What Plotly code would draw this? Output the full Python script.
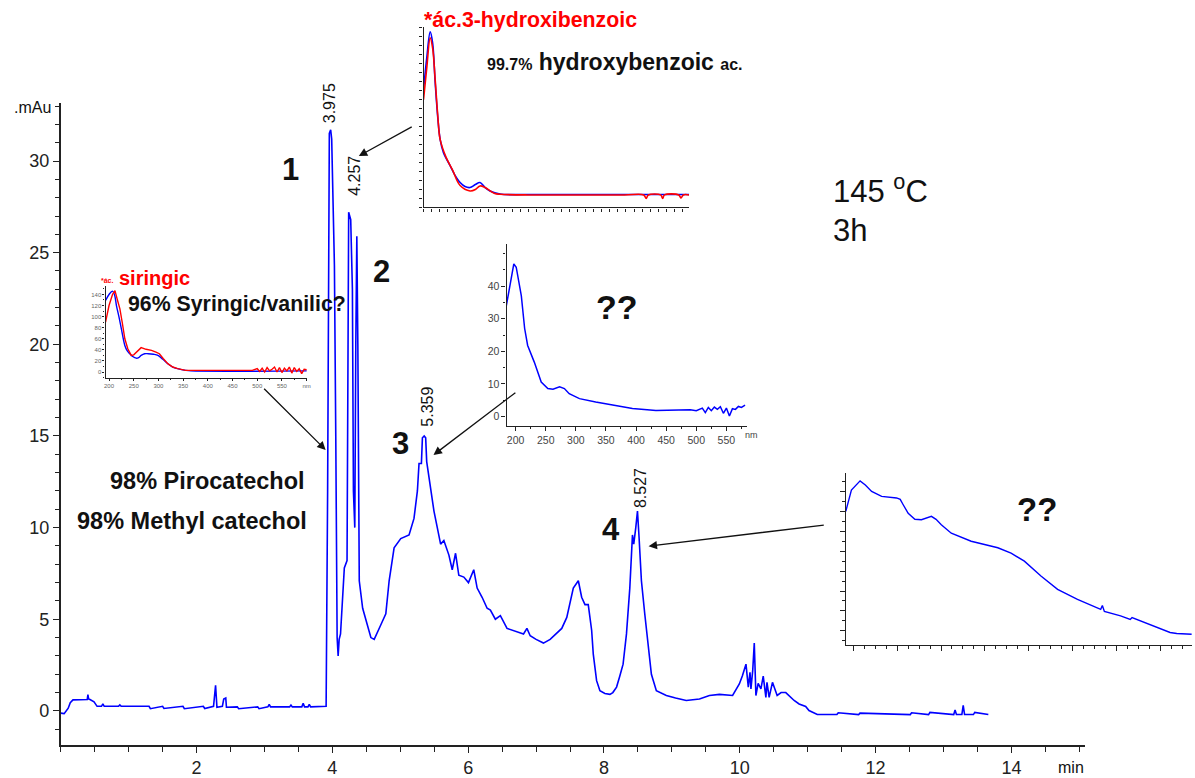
import plotly.graph_objects as go

W, H = 1195, 778
FONT = "Liberation Sans, Arial, Helvetica, sans-serif"
BLUE = "#0000ff"
RED = "#ff0000"
AX = "#222222"

# ---------------- main chromatogram (min, mAU) ----------------
time_min = [0.00, 0.05, 0.11, 0.14, 0.18, 0.315, 0.39, 0.40, 0.41, 0.43, 0.49, 0.535,
            0.60, 0.62, 0.64, 0.85, 0.87, 0.89, 1.3, 1.32, 1.5, 1.52, 1.8, 1.82, 2.1, 2.12,
            2.25, 2.28, 2.30, 2.38, 2.40, 2.43, 2.44, 2.6, 2.62, 2.9, 2.92, 3.05, 3.07,
            3.09, 3.37, 3.39, 3.41, 3.55, 3.57, 3.59, 3.64, 3.66, 3.68, 3.908,
            3.93, 3.955, 3.975, 3.99, 4.005, 4.03, 4.05, 4.07, 4.085, 4.10, 4.12, 4.13,
            4.176, 4.216, 4.225, 4.24, 4.27, 4.295, 4.31, 4.33, 4.345, 4.36, 4.375, 4.396,
            4.446, 4.494, 4.567, 4.616, 4.67, 4.714, 4.787, 4.836, 4.909, 5.007, 5.129,
            5.202, 5.252, 5.276, 5.311, 5.326, 5.352, 5.374, 5.389, 5.447, 5.496, 5.545,
            5.594, 5.642, 5.716, 5.765, 5.814, 5.862, 5.936, 6.004, 6.082, 6.132, 6.205,
            6.279, 6.327, 6.40, 6.474, 6.572, 6.718, 6.815, 6.865, 6.913, 7.00, 7.108,
            7.207, 7.295, 7.378, 7.452, 7.50, 7.548, 7.622, 7.671, 7.72, 7.768, 7.818,
            7.842, 7.891, 7.94, 8.013, 8.087, 8.13, 8.185, 8.233, 8.281, 8.331, 8.38,
            8.419, 8.438, 8.468, 8.493, 8.516, 8.551, 8.60, 8.648, 8.698, 8.771, 8.918,
            9.054, 9.211, 9.406, 9.553, 9.70, 9.894, 9.993, 10.037, 10.091, 10.125,
            10.15, 10.164, 10.19, 10.213, 10.237, 10.27, 10.311, 10.345, 10.384, 10.40,
            10.432, 10.481, 10.55, 10.608, 10.677, 10.80, 10.873, 10.97, 11.019, 11.141,
            11.43, 11.45, 11.75, 11.77, 12.51, 12.53, 12.78, 12.80, 13.15, 13.17, 13.19,
            13.27, 13.29, 13.31, 13.44, 13.46, 13.66]
signal_mau = [-0.12, -0.15, 0.15, 0.45, 0.60, 0.62, 0.62, 0.89, 0.65, 0.62, 0.50, 0.25,
              0.25, 0.38, 0.25, 0.25, 0.33, 0.25, 0.25, 0.12, 0.25, 0.13, 0.25, 0.12, 0.25, 0.13,
              0.25, 1.40, 0.20, 0.25, 0.65, 0.70, 0.20, 0.22, 0.12, 0.22, 0.12, 0.22, 0.35,
              0.22, 0.22, 0.32, 0.22, 0.22, 0.42, 0.22, 0.22, 0.35, 0.22, 0.25,
              12.0, 31.5, 31.7, 31.2, 28.6, 24.3, 15.0, 4.0, 3.0, 3.9, 4.2, 4.9,
              7.8, 8.2, 20.0, 27.2, 26.8, 23.0, 12.0, 10.0, 20.0, 25.9, 20.0, 7.1,
              5.6, 4.9, 4.0, 3.9, 4.3, 4.7, 5.3, 7.1, 8.9, 9.4, 9.6,
              10.5, 12.0, 13.5, 13.5, 14.9, 15.0, 14.9, 13.6, 12.2, 10.9, 10.0,
              9.1, 9.3, 8.5, 7.7, 8.6, 7.4, 7.3, 7.0, 7.7, 6.7, 6.2,
              5.6, 5.5, 5.0, 5.2, 4.5, 4.3, 4.2, 4.5, 4.1, 3.9, 3.7,
              3.9, 4.2, 4.5, 5.1, 6.0, 6.7, 7.1, 6.2, 5.8, 5.8, 4.4,
              3.1, 1.65, 1.1, 0.95, 0.9, 1.0, 1.3, 1.9, 2.55, 4.2, 6.7,
              9.6, 9.1, 10.0, 10.9, 9.5, 7.1, 5.3, 3.5, 2.0, 1.1, 0.84,
              0.7, 0.57, 0.65, 0.84, 0.9, 0.84, 1.47, 1.9, 2.55, 1.3,
              2.1, 1.2, 2.2, 3.7, 0.84, 1.5, 1.2, 1.9, 0.74, 1.56,
              0.74, 1.56, 0.84, 1.0, 1.0, 0.57, 0.38, 0.24, 0.02, -0.20,
              -0.20, -0.10, -0.20, -0.12, -0.20, -0.10, -0.20, -0.08, -0.20, 0.05, -0.20,
              -0.20, 0.30, -0.20, -0.20, -0.08, -0.20]

peak_rt = ["3.975", "4.257", "5.359", "8.527"]
peak_no = ["1", "2", "3", "4"]
x_ticks = [2, 4, 6, 8, 10, 12, 14]
y_ticks = [0, 5, 10, 15, 20, 25, 30]

# ---------------- inset 1: 3-hydroxybenzoic acid spectra (nm, abs) ----------------
hb_nm_s = [190, 195, 200.3, 204, 208, 212, 215.7, 220.8, 231, 238, 246.5, 254, 261.8,
           270, 277.2, 285, 292.6, 308, 350, 450, 600]
hb_ab_s = [118, 150, 176, 165, 125, 90, 68, 55, 42, 33, 25, 21, 20,
           23, 25, 20, 16.6, 13.5, 13, 13, 13]
hb_nm_r = [190, 195, 200.3, 204, 208, 212, 215.7, 225, 234.5, 246.5, 261.8, 270, 277.2,
           285, 300, 308, 350, 500, 530, 533.7, 537, 556, 559.2, 562, 584, 587.5, 591, 600]
hb_ab_r = [108, 140, 170, 160, 128, 92, 68, 50, 38, 22, 16.6, 18, 21.6,
           20, 14, 13.3, 12.6, 12.6, 12.5, 9, 12.5, 12.6, 9, 12.6, 12.6, 9.5, 12.6, 12.6]

# ---------------- inset 2: syringic acid spectra ----------------
sy_nm_s = [193, 200, 207, 211, 215, 220, 225, 232, 237, 242, 248, 255, 260, 265, 272,
           279, 290, 299, 309, 319, 329, 339, 355, 366, 600]
sy_ab_s = [129, 140, 146, 140, 120, 100, 78, 48, 38, 33, 28, 25, 26, 30, 33,
           33, 32, 30, 23, 15, 9, 6, 3, 2, 2]
sy_nm_r = [193, 200, 207, 212, 217, 222, 227, 232, 238, 245, 250, 255, 260, 265, 275,
           286, 295, 302, 310, 319, 329, 339, 355, 366, 450, 490, 500, 505, 510, 515,
           520, 525, 530, 535, 540, 545, 550, 555, 560, 565, 570, 575, 580, 585, 590,
           595, 600]
sy_ab_r = [90, 120, 140, 147, 130, 114, 88, 60, 42, 30, 31, 36, 41, 44, 41,
           39, 36, 33, 24, 15, 9, 6, 3, 3, 3, 3, 6, 1, 7, 0,
           8, 2, 5, 9, 0, 8, -1, 7, 2, 9, -2, 8, 1, 6, -3,
           5, 4]
sy_x_ticks = [200, 250, 300, 350, 400, 450, 500, 550, 600]
sy_x_text = ["200", "250", "300", "350", "400", "450", "500", "550", "nm"]
sy_y_ticks = [0, 20, 40, 60, 80, 100, 120, 140]

# ---------------- inset 3: peak 3 spectrum ----------------
p3_nm = [184.6, 190, 197, 201, 205, 209.5, 215, 220, 231, 242.5, 253.5, 262, 273, 281,
         289, 306, 333, 366, 394, 433, 470, 490, 500, 510, 515, 520, 525, 530, 535,
         540, 545, 550, 555, 560, 565, 570, 575, 581]
p3_ab = [34, 40, 46.8, 45.8, 42, 37, 27, 21.8, 16.7, 10.6, 8.6, 8.4, 9.1, 8.6,
         7.0, 5.5, 4.5, 3.5, 2.5, 1.9, 1.9, 2.1, 1.8, 2.6, 1.2, 2.8, 1.8, 2.9, 2.2,
         3.0, 1.0, 2.6, 0.2, 2.4, 2.2, 3.1, 2.8, 3.5]
p3_x_ticks = [200, 250, 300, 350, 400, 450, 500, 550]
p3_y_ticks = [0, 10, 20, 30, 40]

# ---------------- inset 4: peak 4 spectrum ----------------
p4_nm = [191.3, 197.7, 207.6, 213.6, 220.8, 232.2, 249.2, 253.4, 256.8, 262.5, 270.1,
         277.6, 289, 294.3, 300.3, 311.7, 334.4, 364.8, 379.9, 395.1, 414, 433, 455.7,
         482.2, 484.1, 486.4, 504.9, 515.9, 518, 538.6, 561.4, 569, 586]
p4_ab = [6.0, 7.07, 7.53, 7.32, 7.0, 6.75, 6.67, 6.6, 6.33, 5.9, 5.6,
         5.58, 5.75, 5.6, 5.33, 4.9, 4.5, 4.17, 3.9, 3.5, 2.75, 2.08, 1.58,
         1.08, 1.27, 0.97, 0.75, 0.57, 0.67, 0.33, -0.08, -0.13, -0.17]


def px(x):
    return x / W


def py(y):
    return 1 - y / H


fig = go.Figure()
fig.add_trace(go.Scatter(x=time_min, y=signal_mau, mode="lines",
                         line=dict(color=BLUE, width=1.6), xaxis="x", yaxis="y"))
fig.add_trace(go.Scatter(x=hb_nm_s, y=hb_ab_s, mode="lines", line=dict(color=BLUE, width=1.6, shape="spline"),
                         xaxis="x2", yaxis="y2"))
fig.add_trace(go.Scatter(x=hb_nm_r, y=hb_ab_r, mode="lines", line=dict(color=RED, width=1.6, shape="spline"),
                         xaxis="x2", yaxis="y2"))
fig.add_trace(go.Scatter(x=sy_nm_s, y=sy_ab_s, mode="lines", line=dict(color=BLUE, width=1.4, shape="spline"),
                         xaxis="x3", yaxis="y3"))
fig.add_trace(go.Scatter(x=sy_nm_r, y=sy_ab_r, mode="lines", line=dict(color=RED, width=1.4),
                         xaxis="x3", yaxis="y3"))
fig.add_trace(go.Scatter(x=p3_nm, y=p3_ab, mode="lines", line=dict(color=BLUE, width=1.5),
                         xaxis="x4", yaxis="y4"))
fig.add_trace(go.Scatter(x=p4_nm, y=p4_ab, mode="lines", line=dict(color=BLUE, width=1.4),
                         xaxis="x5", yaxis="y5"))

axbase = dict(showgrid=False, zeroline=False, showline=True, linecolor=AX,
              ticks="outside", tickcolor=AX, fixedrange=True)

fig.update_layout(
    width=W, height=H, margin=dict(l=0, r=0, t=0, b=0),
    paper_bgcolor="white", plot_bgcolor="rgba(0,0,0,0)", showlegend=False,
    font=dict(family=FONT, color="#222"),
    xaxis=dict(axbase, domain=[px(59), px(1088)], range=[0, 15.09], linewidth=1.8,
               tickvals=x_ticks, ticklen=6, tickwidth=1.3,
               tickfont=dict(size=18, color="#222"),
               minor=dict(dtick=0.5, tick0=0, ticklen=5, tickcolor=AX, ticks="outside"),
               anchor="y"),
    yaxis=dict(axbase, domain=[py(747.7), py(103.3)], range=[-1.85, 33.17], linewidth=1.8,
               tickvals=y_ticks, ticklen=6, tickwidth=1.3,
               tickfont=dict(size=18, color="#222"),
               minor=dict(dtick=1, tick0=0, ticklen=4, tickcolor=AX, ticks="outside"),
               anchor="x"),
    # inset 1
    xaxis2=dict(axbase, domain=[px(423.3), px(690)], range=[190, 600], anchor="y2",
                linewidth=1.3, dtick=12.5, tick0=190, ticklen=3, showticklabels=False),
    yaxis2=dict(axbase, domain=[py(208.3), py(27)], range=[0, 181], anchor="x2",
                linewidth=1.3, dtick=9, tick0=0, ticklen=3, showticklabels=False),
    # inset 2
    xaxis3=dict(axbase, domain=[px(104), px(306.7)], range=[193, 601.6], anchor="y3",
                linewidth=1.2, tickvals=sy_x_ticks, ticktext=sy_x_text, ticklen=2,
                tickfont=dict(size=6, color="#666"),
                minor=dict(dtick=25, ticklen=1.5, ticks="outside", tickcolor=AX)),
    yaxis3=dict(axbase, domain=[py(379), py(286.7)], range=[-10, 156], anchor="x3",
                linewidth=1.2, tickvals=sy_y_ticks, ticklen=2,
                tickfont=dict(size=6, color="#666"),
                minor=dict(dtick=10, ticklen=1.5, ticks="outside", tickcolor=AX)),
    # inset 3
    xaxis4=dict(axbase, domain=[px(506.7), px(748)], range=[185, 584], anchor="y4",
                linewidth=1.3, tickvals=p3_x_ticks, ticklen=4,
                tickfont=dict(size=10.5, color="#444"),
                minor=dict(dtick=25, ticklen=2, ticks="outside", tickcolor=AX)),
    yaxis4=dict(axbase, domain=[py(428), py(245)], range=[-3, 52.9], anchor="x4",
                linewidth=1.3, tickvals=p3_y_ticks, ticklen=4,
                tickfont=dict(size=10.5, color="#444"),
                minor=dict(dtick=5, ticklen=2, ticks="outside", tickcolor=AX)),
    # inset 4
    xaxis5=dict(axbase, domain=[px(847.3), px(1195)], range=[191.25, 586.4], anchor="y5",
                linewidth=1.4, dtick=50, tick0=200, ticklen=5, showticklabels=False,
                minor=dict(dtick=12.5, ticklen=3, ticks="outside", tickcolor=AX)),
    yaxis5=dict(axbase, domain=[py(647), py(475)], range=[-0.685, 7.915], anchor="x5",
                linewidth=1.4, dtick=1, tick0=0, ticklen=5, showticklabels=False,
                minor=dict(dtick=0.5, ticklen=3, ticks="outside", tickcolor=AX)),
)

ann = []


def text(x, y, s, size, color="#111", bold=False, angle=0, xanchor="center"):
    ann.append(dict(x=px(x), y=py(y), xref="paper", yref="paper", text=(f"<b>{s}</b>" if bold else s),
                    showarrow=False, xanchor=xanchor, yanchor="middle", textangle=angle,
                    font=dict(family=FONT, size=size, color=color)))


def arrow(hx, hy, tx, ty):
    ann.append(dict(x=px(hx), y=py(hy), xref="paper", yref="paper", text="",
                    showarrow=True, ax=tx - hx, ay=ty - hy, axref="pixel", ayref="pixel",
                    arrowhead=2, arrowsize=1.3, arrowwidth=1.3, arrowcolor="#111", standoff=0))


# axis captions
text(31, 108, ".mAu", 16)
text(1073, 770, "min", 16)

# retention-time labels (rotated)
for s, (x, y) in zip(peak_rt, [(329, 104), (354, 177), (427.7, 408.3), (641.3, 490.3)]):
    text(x, y, s, 16, angle=-90)

# peak numbers
for s, (x, y) in zip(peak_no, [(290, 170), (381, 273), (400, 445), (611.7, 531.7)]):
    text(x, y, s, 31, bold=True)

text(832, 190, "145 <sup>o</sup>C", 31, xanchor="left")
text(832, 231, "3h", 31, xanchor="left")

text(206, 483, "98% Pirocatechol", 23.5, bold=True)
text(191, 523, "98% Methyl catechol", 23.5, bold=True)
text(236, 305, "96% Syringic/vanilic?", 21.3, bold=True)
text(422, 20, "*ác.3-hydroxibenzoic", 21.3, color=RED, bold=True, xanchor="left")
text(485, 62, "<b><span style='font-size:16px'>99.7%</span> hydroxybenzoic <span style='font-size:16px'>ac.</span></b>",
     23, xanchor="left")
text(97, 282, "*ác.", 7, color=RED, bold=True, xanchor="left")
text(153, 279, "siringic", 20, color=RED, bold=True)
text(617.8, 308, "??", 34, bold=True)
text(1039.7, 511.3, "??", 33, bold=True)
text(753, 437, "nm", 9, color="#444")

arrow(358.3, 156.7, 412.7, 126.7)
arrow(325, 451.7, 262, 389)
arrow(433.3, 456.7, 516.7, 393.3)
arrow(649.3, 548.3, 826, 527)

fig.update_layout(annotations=ann)
fig.write_html("out.html")
